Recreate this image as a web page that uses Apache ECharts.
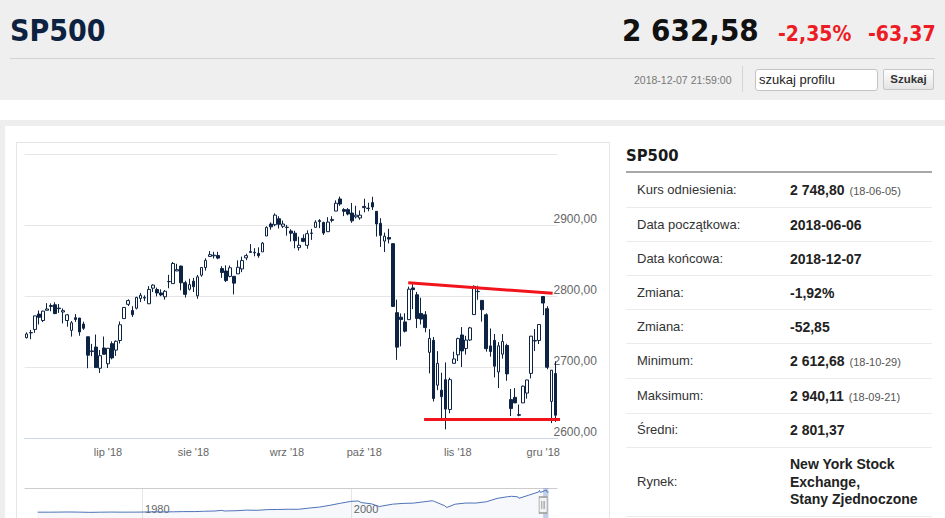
<!DOCTYPE html>
<html><head><meta charset="utf-8">
<script src="https://cdn.jsdelivr.net/npm/echarts@6/dist/echarts.min.js"></script>
<style>
html,body{margin:0;padding:0;width:945px;height:518px;overflow:hidden;background:#fff;font-family:'Liberation Sans',Arial,sans-serif;}
.a{position:absolute;white-space:nowrap;}
.cond{font-family:'DejaVu Sans Condensed','DejaVu Sans',sans-serif;font-stretch:condensed;font-weight:bold;}
.lbl{position:absolute;left:637px;font-size:13px;line-height:14px;color:#333;white-space:nowrap;}
.val{position:absolute;left:790px;font-size:14px;line-height:16px;color:#222;font-weight:bold;white-space:nowrap;}
.val small{font-size:11px;font-weight:normal;color:#555;margin-left:5px;}
.rl{position:absolute;left:626px;width:306px;height:1px;background:#ebebeb;}
</style></head><body>
<div class="a" style="left:0;top:0;width:945px;height:100px;background:#efefef"></div>
<div class="a cond" style="left:10px;top:16px;font-size:30px;line-height:30px;color:#0d2240">SP500</div>
<div class="a cond" style="left:622px;top:14.5px;font-size:31px;line-height:31px;color:#111">2 632,58</div>
<div class="a cond" style="left:778px;top:24px;font-size:21px;line-height:21px;color:#ed1c24">-2,35%</div>
<div class="a cond" style="left:868px;top:24px;font-size:21px;line-height:21px;color:#ed1c24">-63,37</div>
<div class="a" style="left:10px;top:58px;width:925px;height:1px;background:#d2d2d2"></div>
<div class="a" style="left:634px;top:75px;font-size:10.5px;line-height:11px;color:#777">2018-12-07 21:59:00</div>
<div class="a" style="left:742px;top:66px;width:1px;height:26px;background:#d5d5d5"></div>
<div class="a" style="left:755px;top:69px;width:123px;height:22px;box-sizing:border-box;border:1px solid #c4c4c4;border-radius:3px;background:#fff;font-size:13px;line-height:20px;padding-left:3px;color:#222">szukaj profilu</div>
<div class="a" style="left:883px;top:69px;width:51px;height:21px;box-sizing:border-box;border:1px solid #c6c6c6;border-radius:2px;background:linear-gradient(#fefefe,#e4e4e4);font-size:11.5px;font-weight:bold;line-height:19px;text-align:center;color:#333">Szukaj</div>

<div class="a" style="left:0;top:120px;width:945px;height:398px;background:#eeeeee"></div>
<div class="a" style="left:5px;top:126px;width:940px;height:392px;background:#fff"></div>
<div class="a" style="left:16px;top:142px;width:594px;height:400px;box-sizing:border-box;border:1px solid #e6e6e6"></div>

<div class="a cond" style="left:626px;top:146.5px;font-size:16.5px;line-height:17px;color:#1a1a1a">SP500</div>
<div class="a" style="left:626px;top:171px;width:306px;height:2px;background:#a8a8a8"></div>

<div class="lbl" style="top:183px">Kurs odniesienia:</div><div class="val" style="top:182px">2 748,80<small>(18-06-05)</small></div>
<div class="rl" style="top:207px"></div>
<div class="lbl" style="top:217.5px">Data początkowa:</div><div class="val" style="top:216.5px">2018-06-06</div>
<div class="rl" style="top:241px"></div>
<div class="lbl" style="top:251.5px">Data końcowa:</div><div class="val" style="top:250.5px">2018-12-07</div>
<div class="rl" style="top:275px"></div>
<div class="lbl" style="top:285.5px">Zmiana:</div><div class="val" style="top:284.5px">-1,92%</div>
<div class="rl" style="top:309px"></div>
<div class="lbl" style="top:319.5px">Zmiana:</div><div class="val" style="top:318.5px">-52,85</div>
<div class="rl" style="top:343px"></div>
<div class="lbl" style="top:354px">Minimum:</div><div class="val" style="top:353px">2 612,68<small>(18-10-29)</small></div>
<div class="rl" style="top:378px"></div>
<div class="lbl" style="top:388.5px">Maksimum:</div><div class="val" style="top:387.5px">2 940,11<small>(18-09-21)</small></div>
<div class="rl" style="top:413px"></div>
<div class="lbl" style="top:423px">Średni:</div><div class="val" style="top:422px">2 801,37</div>
<div class="rl" style="top:447px"></div>
<div class="lbl" style="top:475px">Rynek:</div><div class="val" style="top:456px;line-height:17.5px">New York Stock<br>Exchange,<br>Stany Zjednoczone</div>
<div class="rl" style="top:516px"></div>

<div id="chart" style="position:absolute;left:0;top:0;width:945px;height:540px;"></div>
<script>
const dates = [
'2018-06-04','2018-06-05','2018-06-06','2018-06-07','2018-06-08','2018-06-11','2018-06-12','2018-06-13','2018-06-14','2018-06-15',
'2018-06-18','2018-06-19','2018-06-20','2018-06-21','2018-06-22','2018-06-25','2018-06-26','2018-06-27','2018-06-28','2018-06-29',
'2018-07-02','2018-07-03','2018-07-05','2018-07-06','2018-07-09','2018-07-10','2018-07-11','2018-07-12','2018-07-13','2018-07-16',
'2018-07-17','2018-07-18','2018-07-19','2018-07-20','2018-07-23','2018-07-24','2018-07-25','2018-07-26','2018-07-27','2018-07-30','2018-07-31',
'2018-08-01','2018-08-02','2018-08-03','2018-08-06','2018-08-07','2018-08-08','2018-08-09','2018-08-10','2018-08-13','2018-08-14',
'2018-08-15','2018-08-16','2018-08-17','2018-08-20','2018-08-21','2018-08-22','2018-08-23','2018-08-24','2018-08-27','2018-08-28',
'2018-08-29','2018-08-30','2018-08-31',
'2018-09-04','2018-09-05','2018-09-06','2018-09-07','2018-09-10','2018-09-11','2018-09-12','2018-09-13','2018-09-14','2018-09-17',
'2018-09-18','2018-09-19','2018-09-20','2018-09-21','2018-09-24','2018-09-25','2018-09-26','2018-09-27','2018-09-28',
'2018-10-01','2018-10-02','2018-10-03','2018-10-04','2018-10-05','2018-10-08','2018-10-09','2018-10-10','2018-10-11','2018-10-12',
'2018-10-15','2018-10-16','2018-10-17','2018-10-18','2018-10-19','2018-10-22','2018-10-23','2018-10-24','2018-10-25','2018-10-26',
'2018-10-29','2018-10-30','2018-10-31',
'2018-11-01','2018-11-02','2018-11-05','2018-11-06','2018-11-07','2018-11-08','2018-11-09','2018-11-12','2018-11-13','2018-11-14',
'2018-11-15','2018-11-16','2018-11-19','2018-11-20','2018-11-21','2018-11-23','2018-11-26','2018-11-27','2018-11-28','2018-11-29','2018-11-30',
'2018-12-03','2018-12-04','2018-12-06','2018-12-07'];

const opens = [
2741.67,2748.46,2753.25,2774.84,2765.84,2780.18,2785.60,2787.94,2783.21,2777.78,
2765.79,2752.01,2769.73,2769.28,2760.79,2742.94,2722.12,2728.45,2698.69,2727.13,
2704.95,2733.27,2724.19,2737.68,2768.51,2788.56,2779.82,2783.14,2796.93,2797.36,
2789.34,2811.35,2809.37,2804.55,2799.17,2820.68,2817.73,2835.49,2842.35,2819.00,2809.73,
2821.17,2800.48,2829.62,2840.29,2855.92,2856.79,2857.19,2838.90,2835.46,2827.88,
2827.95,2831.44,2838.32,2853.93,2861.51,2860.99,2860.29,2862.35,2884.69,2901.45,
2900.62,2908.94,2898.37,
2896.96,2891.59,2888.64,2868.26,2881.39,2871.57,2888.29,2896.85,2906.38,2903.83,
2890.74,2906.60,2919.73,2936.76,2921.83,2921.75,2916.98,2911.65,2910.03,
2926.29,2923.80,2931.69,2919.35,2902.54,2877.53,2882.51,2873.90,2776.87,2770.54,
2763.83,2767.05,2811.67,2802.00,2775.66,2773.94,2721.03,2737.87,2674.88,2667.86,
2682.65,2640.68,2705.60,
2717.58,2745.45,2726.37,2738.40,2774.13,2806.38,2794.10,2773.93,2730.05,2737.90,
2693.52,2718.54,2730.74,2654.60,2657.74,2633.36,2649.97,2663.75,2691.45,2736.97,2737.76,
2799.60,2782.43,2652.00,2691.26];

const highs = [
2749.16,2752.61,2772.39,2779.90,2779.39,2790.21,2789.80,2791.47,2789.06,2782.81,
2774.99,2765.05,2774.86,2769.28,2764.17,2742.94,2732.91,2746.09,2724.34,2743.26,
2727.26,2736.58,2737.83,2764.41,2784.65,2795.58,2785.91,2799.22,2804.53,2801.19,
2814.19,2816.76,2812.05,2809.70,2808.61,2829.99,2848.03,2845.57,2843.17,2821.74,2824.46,
2825.83,2829.91,2840.38,2853.29,2863.43,2862.44,2862.48,2842.20,2843.40,2843.11,
2827.95,2850.49,2855.63,2859.76,2873.23,2867.54,2868.78,2876.16,2898.25,2903.77,
2916.50,2912.46,2906.32,
2900.18,2894.21,2892.05,2883.81,2886.93,2892.52,2894.65,2906.76,2908.30,2904.65,
2911.17,2912.36,2934.80,2940.11,2923.79,2923.95,2931.15,2927.22,2920.53,
2937.06,2931.42,2939.86,2919.78,2909.64,2889.45,2894.83,2874.02,2795.14,2775.77,
2775.99,2813.46,2816.94,2806.04,2797.77,2778.94,2753.59,2742.59,2722.70,2692.38,
2706.85,2685.43,2722.00,
2741.67,2756.55,2744.27,2756.82,2815.15,2814.75,2794.10,2775.99,2754.60,2746.80,
2735.38,2746.75,2733.16,2669.44,2670.73,2647.55,2674.35,2682.53,2744.00,2753.75,2760.88,
2800.18,2785.93,2696.15,2708.54];

const lows = [
2740.54,2739.51,2748.46,2760.16,2763.59,2780.17,2778.78,2774.65,2776.52,2761.73,
2757.12,2743.19,2763.91,2744.39,2752.68,2698.67,2715.60,2699.38,2691.99,2718.03,
2698.95,2711.16,2716.02,2733.52,2768.51,2786.24,2770.77,2781.53,2791.69,2793.39,
2789.24,2805.89,2799.77,2800.01,2795.14,2811.12,2817.73,2835.26,2808.34,2798.11,2808.06,
2805.85,2796.34,2827.37,2835.98,2855.92,2853.09,2851.98,2825.81,2819.88,2826.58,
2802.49,2831.44,2833.73,2850.62,2861.32,2856.05,2854.03,2862.35,2884.69,2893.50,
2898.40,2895.22,2895.77,
2885.13,2876.92,2867.29,2864.12,2875.94,2866.78,2879.20,2896.39,2895.77,2886.16,
2890.43,2903.82,2919.73,2927.11,2912.63,2913.70,2903.28,2909.27,2907.50,
2917.91,2919.37,2921.36,2883.92,2869.29,2862.08,2874.27,2784.86,2710.51,2729.44,
2749.03,2766.91,2781.81,2755.18,2760.27,2749.22,2691.43,2651.89,2667.84,2628.16,
2612.68,2635.34,2705.60,
2708.85,2700.44,2717.94,2737.08,2774.13,2794.99,2764.24,2722.00,2714.98,2685.75,
2670.75,2712.16,2681.09,2631.52,2649.82,2631.09,2649.97,2655.89,2684.38,2722.94,2732.76,
2773.38,2697.18,2621.53,2623.14];

const closes = [
2746.87,2748.80,2772.35,2770.37,2779.03,2782.00,2786.85,2775.63,2782.49,2779.66,
2773.75,2762.59,2767.32,2749.76,2754.88,2717.07,2723.06,2699.63,2716.31,2718.37,
2726.71,2713.22,2736.61,2759.82,2784.17,2793.84,2774.02,2798.29,2801.31,2798.43,
2809.55,2815.62,2804.49,2801.83,2806.98,2820.40,2846.07,2837.44,2818.82,2802.60,2816.29,
2813.36,2827.22,2840.35,2850.40,2858.45,2857.70,2853.58,2833.28,2821.93,2839.96,
2818.37,2840.69,2850.13,2857.05,2862.96,2861.82,2856.98,2874.69,2896.74,2897.52,
2914.04,2901.13,2901.52,
2896.72,2888.60,2878.05,2871.68,2877.13,2887.89,2888.92,2904.18,2904.98,2888.80,
2904.31,2907.95,2930.75,2929.67,2919.37,2915.56,2905.97,2914.00,2913.98,
2924.59,2923.43,2925.51,2901.61,2885.57,2884.43,2880.34,2785.68,2728.37,2767.13,
2750.79,2809.92,2809.21,2768.78,2767.78,2755.88,2740.69,2656.10,2705.57,2658.69,
2641.25,2682.63,2711.74,
2740.37,2723.06,2738.31,2755.45,2813.89,2806.83,2781.01,2726.22,2722.18,2701.58,
2730.20,2736.27,2690.73,2641.89,2649.93,2632.56,2673.45,2682.17,2743.79,2737.76,2760.17,
2790.37,2700.06,2695.95,2632.58];

const monthTickIdx = [20, 41, 64, 83, 106, 127];
const monthLabels = ["lip '18", "sie '18", "wrz '18", "paź '18", "lis '18", "gru '18"];
const yTicks = [2600, 2700, 2800, 2900, 3000];

// trend lines (x = candle index, y = value)
const upperTrend = [[93.8, 2818.8], [129.3, 2804.1]];
const lowerTrend = [[97.7, 2626.6], [132.8, 2626.6]];

// navigator long-term series
const navYear = [1970,1971,1972,1973,1974,1975,1976,1977,1978,1979,1980,1981,1982,1983,1984,1985,1986,1987,1987.65,1987.85,1988,1989,1990,1991,1992,1993,1994,1995,1996,1997,1998,1999,2000,2000.7,2001,2002,2002.75,2003,2004,2005,2006,2007,2007.8,2008,2009,2009.2,2010,2011,2012,2013,2014,2015,2015.4,2016,2016.1,2017,2018,2018.07,2018.15,2018.42,2018.72,2018.82,2018.93];
const navValue = [93,92,102,118,97,69,90,107,95,96,108,136,122,141,165,167,211,242,330,245,247,278,353,330,417,436,466,459,616,741,970,1229,1469,1520,1320,1148,800,880,1112,1212,1248,1418,1550,1468,903,700,1115,1258,1258,1426,1848,2059,2120,2044,1860,2239,2674,2870,2620,2740,2930,2650,2633];
const navGridYears = [1980, 2000];
const navRange = [2018.42, 2018.93];

const labelMap = {};
monthTickIdx.forEach((k, j) => { labelMap[k] = monthLabels[j]; });
const tickFn = (idx) => labelMap[idx] !== undefined;
const candleData = dates.map((d, i) => [opens[i], closes[i], lows[i], highs[i]]);

const chart = echarts.init(document.getElementById('chart'), null, {renderer: 'svg', width: 945, height: 540});
chart.setOption({
  backgroundColor: 'transparent',
  animation: false,
  textStyle: {fontFamily: "'Liberation Sans', Arial, sans-serif"},
  grid: [
    {left: 24.6, width: 532.9, top: 154, height: 284.4},
    {left: 25, width: 532, top: 488, height: 40}
  ],
  xAxis: [
    {type: 'category', gridIndex: 0, data: dates, boundaryGap: true,
     axisLine: {lineStyle: {color: '#ccd6eb'}},
     axisTick: {alignWithLabel: true, interval: tickFn, length: 10, lineStyle: {color: '#ccd6eb'}},
     axisLabel: {interval: tickFn, formatter: (v, idx) => labelMap[idx] || '', color: '#666', fontSize: 11, margin: 8},
     splitLine: {show: false}},
    {type: 'value', gridIndex: 0, min: -0.5, max: dates.length - 0.5, show: false},
    {type: 'value', gridIndex: 1, min: 1968.79, max: 2019.75, position: 'bottom',
     axisLine: {show: false},
     axisTick: {show: false, customValues: navGridYears},
     axisLabel: {customValues: navGridYears, align: 'left', margin: -25, color: '#666', fontSize: 11, padding: [0, 0, 0, 3], formatter: v => String(v)},
     splitLine: {show: true, lineStyle: {color: '#e6e6e6'}}},
    {type: 'value', gridIndex: 1, min: 1968.79, max: 2019.75, position: 'top',
     axisLine: {show: true, lineStyle: {color: '#cccccc'}}, axisTick: {show: false}, axisLabel: {show: false}, splitLine: {show: false}}
  ],
  yAxis: [
    {type: 'value', gridIndex: 0, position: 'right', min: yTicks[0], max: yTicks[yTicks.length - 1], interval: 100,
     axisLine: {show: false}, axisTick: {show: false},
     splitLine: {lineStyle: {color: '#e6e6e6'}},
     axisLabel: {formatter: v => v === 3000 ? '' : v.toFixed(2).replace('.', ','), align: 'left', margin: -4, verticalAlign: 'bottom', color: '#666', fontSize: 12}},
    {type: 'value', gridIndex: 1, min: -1926, max: 3176, show: false}
  ],
  series: [
    {type: 'candlestick', xAxisIndex: 0, yAxisIndex: 0, data: candleData, barWidth: 3.2,
     itemStyle: {color: '#ffffff', color0: '#0c2344', borderColor: '#0c2344', borderColor0: '#0c2344', borderWidth: 1}},
    {type: 'line', xAxisIndex: 1, yAxisIndex: 0, data: upperTrend, symbol: 'none', clip: false,
     lineStyle: {color: '#f2141c', width: 3}},
    {type: 'line', xAxisIndex: 1, yAxisIndex: 0, data: lowerTrend, symbol: 'none', clip: false,
     lineStyle: {color: '#f2141c', width: 3}},
    {type: 'line', xAxisIndex: 2, yAxisIndex: 1, data: navYear.map((y, i) => [y, navValue[i]]), symbol: 'none',
     lineStyle: {color: '#4d72b8', width: 1}, areaStyle: {color: 'rgba(51,92,173,0.06)', origin: 'start'},
     markArea: {silent: true, itemStyle: {color: 'rgba(102,133,194,0.35)'}, data: [[{xAxis: navRange[0]}, {xAxis: navRange[1]}]]},
     markPoint: {silent: true, label: {show: false},
       symbol: 'path://M0,0 H8 V16 H0 Z M2.5,4 V12 M4,4 V12 M5.5,4 V12', symbolSize: [8, 16],
       itemStyle: {color: '#f2f2f2', borderColor: '#999999', borderWidth: 1},
       data: [{coord: [navRange[0], 1008]}]}}
  ]
});
</script>
</body></html>
